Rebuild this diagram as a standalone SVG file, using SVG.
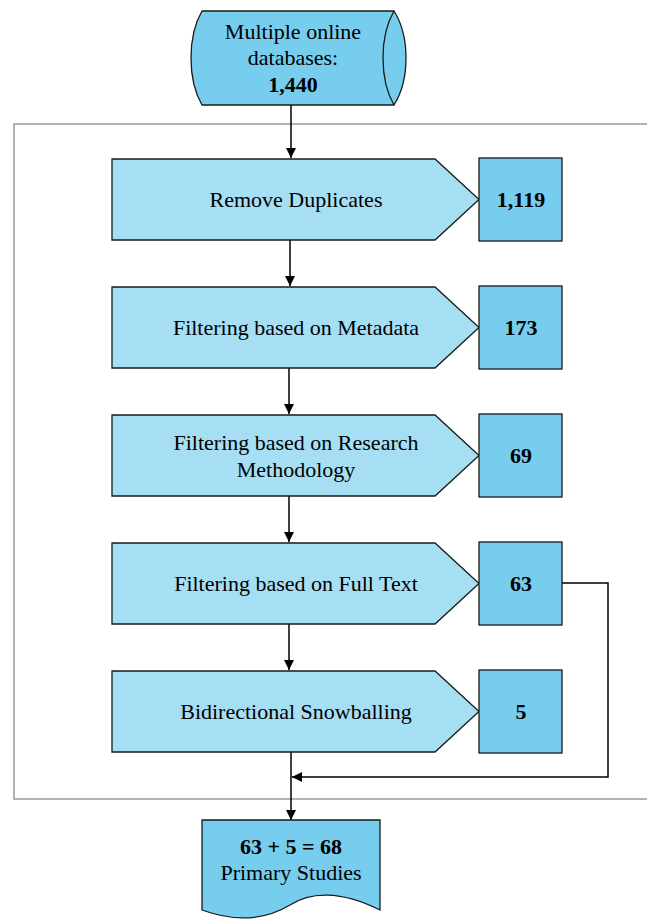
<svg xmlns="http://www.w3.org/2000/svg" width="647" height="919" viewBox="0 0 647 919">
<defs>
<style>
.proc{fill:#a6dff4;stroke:#1a1a1a;stroke-width:1.3}
.num{fill:#76cdee;stroke:#1a1a1a;stroke-width:1.3}
.t{font-family:"Liberation Serif","Times New Roman",serif;font-size:22px;fill:#000;text-anchor:middle}
.b{font-weight:bold}
.con{fill:none;stroke:#000;stroke-width:1.5}
</style>
<marker id="ah" viewBox="0 0 10 10" refX="10" refY="5" markerWidth="10" markerHeight="10" markerUnits="userSpaceOnUse" orient="auto">
<path d="M0,0 L10,5 L0,10 Z" fill="#000"/>
</marker>
</defs>
<rect width="647" height="919" fill="#fff"/>
<path d="M660,124 H14 V799 H660" fill="none" stroke="#9a9a9a" stroke-width="1.5"/>

<g id="connectors">
<line class="con" x1="291" y1="105" x2="291" y2="158" marker-end="url(#ah)"/>
<line class="con" x1="290" y1="240" x2="290" y2="286" marker-end="url(#ah)"/>
<line class="con" x1="289" y1="368" x2="289" y2="414" marker-end="url(#ah)"/>
<line class="con" x1="289" y1="496" x2="289" y2="542" marker-end="url(#ah)"/>
<line class="con" x1="289" y1="624" x2="289" y2="670" marker-end="url(#ah)"/>
<line class="con" x1="291" y1="752" x2="291" y2="820" marker-end="url(#ah)"/>
<path class="con" d="M562,583 H608 V777 H292" marker-end="url(#ah)"/>
</g>

<g id="source">
<path d="M202,11 H394 Q406,30 406,58 Q406,86 394,105 H202 Q191,86 191,58 Q191,30 202,11 Z" fill="#76cdee" stroke="#1a1a1a" stroke-width="1.3"/>
<path d="M394,11 Q383,30 383,58 Q383,86 394,105" fill="none" stroke="#1a1a1a" stroke-width="1.3"/>
<text class="t" x="293" y="39">Multiple online</text>
<text class="t" x="293" y="65">databases:</text>
<text class="t b" x="293" y="92">1,440</text>
</g>

<g id="step1">
<path class="proc" d="M112,159 H435 L479,199.5 L435,240 H112 Z"/>
<text class="t" x="296" y="207">Remove Duplicates</text>
</g>
<g id="count1">
<rect class="num" x="479" y="158" width="83" height="83"/>
<text class="t b" x="521" y="207">1,119</text>
</g>

<g id="step2">
<path class="proc" d="M112,287 H435 L479,327.5 L435,368 H112 Z"/>
<text class="t" x="296" y="335">Filtering based on Metadata</text>
</g>
<g id="count2">
<rect class="num" x="479" y="286" width="83" height="83"/>
<text class="t b" x="521" y="335">173</text>
</g>

<g id="step3">
<path class="proc" d="M112,415 H435 L479,455.5 L435,496 H112 Z"/>
<text class="t" x="296" y="450">Filtering based on Research</text>
<text class="t" x="296" y="477">Methodology</text>
</g>
<g id="count3">
<rect class="num" x="479" y="414" width="83" height="83"/>
<text class="t b" x="521" y="463">69</text>
</g>

<g id="step4">
<path class="proc" d="M112,543 H435 L479,583.5 L435,624 H112 Z"/>
<text class="t" x="296" y="591">Filtering based on Full Text</text>
</g>
<g id="count4">
<rect class="num" x="479" y="542" width="83" height="83"/>
<text class="t b" x="521" y="591">63</text>
</g>

<g id="step5">
<path class="proc" d="M112,671 H435 L479,711.5 L435,752 H112 Z"/>
<text class="t" x="296" y="719">Bidirectional Snowballing</text>
</g>
<g id="count5">
<rect class="num" x="479" y="670" width="83" height="83"/>
<text class="t b" x="521" y="719">5</text>
</g>

<g id="result">
<path d="M202,820 H380 V910 C340,890 310,892 290,905 C265,920 235,922 202,910 Z" fill="#76cdee" stroke="#1a1a1a" stroke-width="1.3"/>
<text class="t b" x="291" y="854">63 + 5 = 68</text>
<text class="t" x="291" y="880">Primary Studies</text>
</g>
</svg>
